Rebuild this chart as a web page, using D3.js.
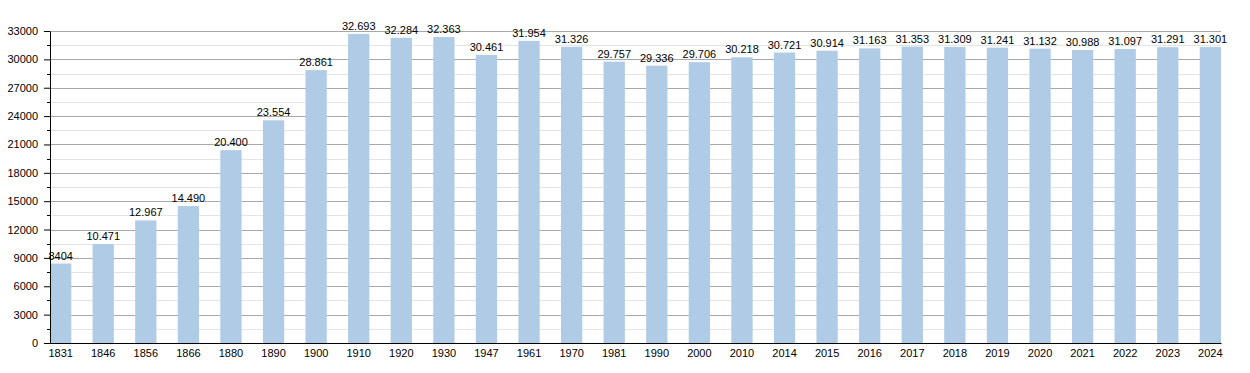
<!DOCTYPE html>
<html>
<head>
<meta charset="utf-8">
<script src="https://cdn.jsdelivr.net/npm/d3@7"></script>
<style>
  body { margin: 0; background: #fff; }
  text { font-family: "Liberation Sans", Arial, sans-serif; fill: #000; }
</style>
</head>
<body>
<div id="chart"></div>
<script>
// data
var years = ["1831","1846","1856","1866","1880","1890","1900","1910","1920","1930","1947","1961","1970","1981","1990","2000","2010","2014","2015","2016","2017","2018","2019","2020","2021","2022","2023","2024"];
var population = [8404,10471,12967,14490,20400,23554,28861,32693,32284,32363,30461,31954,31326,29757,29336,29706,30218,30721,30914,31163,31353,31309,31241,31132,30988,31097,31291,31301];
var valueLabels = ["8404","10.471","12.967","14.490","20.400","23.554","28.861","32.693","32.284","32.363","30.461","31.954","31.326","29.757","29.336","29.706","30.218","30.721","30.914","31.163","31.353","31.309","31.241","31.132","30.988","31.097","31.291","31.301"];
var yTicks = [0,3000,6000,9000,12000,15000,18000,21000,24000,27000,30000,33000];
var yMinorTicks = [1500,4500,7500,10500,13500,16500,19500,22500,25500,28500,31500];

var svgWidth = 1250;
var svgHeight = 373;
var margin = {top: 31, right: 29, bottom: 30, left: 50};
var chartWidth = svgWidth - margin.left - margin.right;
var chartHeight = svgHeight - margin.top - margin.bottom;

var svg = d3.select("#chart")
  .append("svg")
  .attr("width", svgWidth)
  .attr("height", svgHeight)
  .append("g")
  .attr("transform", `translate(${margin.left},${margin.top})`);

var x = d3.scaleBand().domain(years).range([0, chartWidth]).paddingInner(0.5).paddingOuter(0);
var y = d3.scaleLinear().domain([0, 33000]).range([chartHeight, 0]);

// minor gridlines
svg.selectAll(".minor")
  .data(yMinorTicks)
  .enter()
  .append("line")
  .attr("x1", 0).attr("x2", chartWidth)
  .attr("y1", d => Math.round(y(d)) + 0.5).attr("y2", d => Math.round(y(d)) + 0.5)
  .attr("stroke", "#e4e4e4");

// major gridlines
svg.selectAll(".major")
  .data(yTicks)
  .enter()
  .append("line")
  .attr("x1", 0).attr("x2", chartWidth)
  .attr("y1", d => Math.round(y(d)) + 0.5).attr("y2", d => Math.round(y(d)) + 0.5)
  .attr("stroke", "#a8a8a8");

// bars
svg.selectAll("rect")
  .data(population)
  .enter()
  .append("rect")
  .attr("x", (d, i) => x(years[i]))
  .attr("width", x.bandwidth())
  .attr("y", d => y(d))
  .attr("height", d => chartHeight - y(d))
  .attr("fill", "#b0cbe5");

// value labels
svg.selectAll(".val")
  .data(population)
  .enter()
  .append("text")
  .attr("x", (d, i) => x(years[i]) + x.bandwidth() / 2)
  .attr("y", d => y(d) - 4)
  .attr("text-anchor", "middle")
  .style("font-size", "11px")
  .text((d, i) => valueLabels[i]);

// y axis
var leftAxis = d3.axisLeft(y).tickValues(yTicks).tickSize(6).tickSizeOuter(0).tickPadding(6).tickFormat(d3.format("d"));
var gy = svg.append("g").call(leftAxis);
gy.select(".domain").attr("stroke", "#000");
gy.selectAll("text").style("font-size", "11px");

// minor y ticks
svg.selectAll(".mtick")
  .data(yMinorTicks)
  .enter()
  .append("line")
  .attr("x1", -3).attr("x2", 0)
  .attr("y1", d => Math.round(y(d)) + 0.5).attr("y2", d => Math.round(y(d)) + 0.5)
  .attr("stroke", "#000");

// x axis
var bottomAxis = d3.axisBottom(x).tickSize(0).tickPadding(6);
var gx = svg.append("g").attr("transform", `translate(0,${chartHeight})`).call(bottomAxis);
gx.select(".domain").attr("stroke", "#000");
gx.selectAll("text").style("font-size", "11px");
</script>
</body>
</html>
